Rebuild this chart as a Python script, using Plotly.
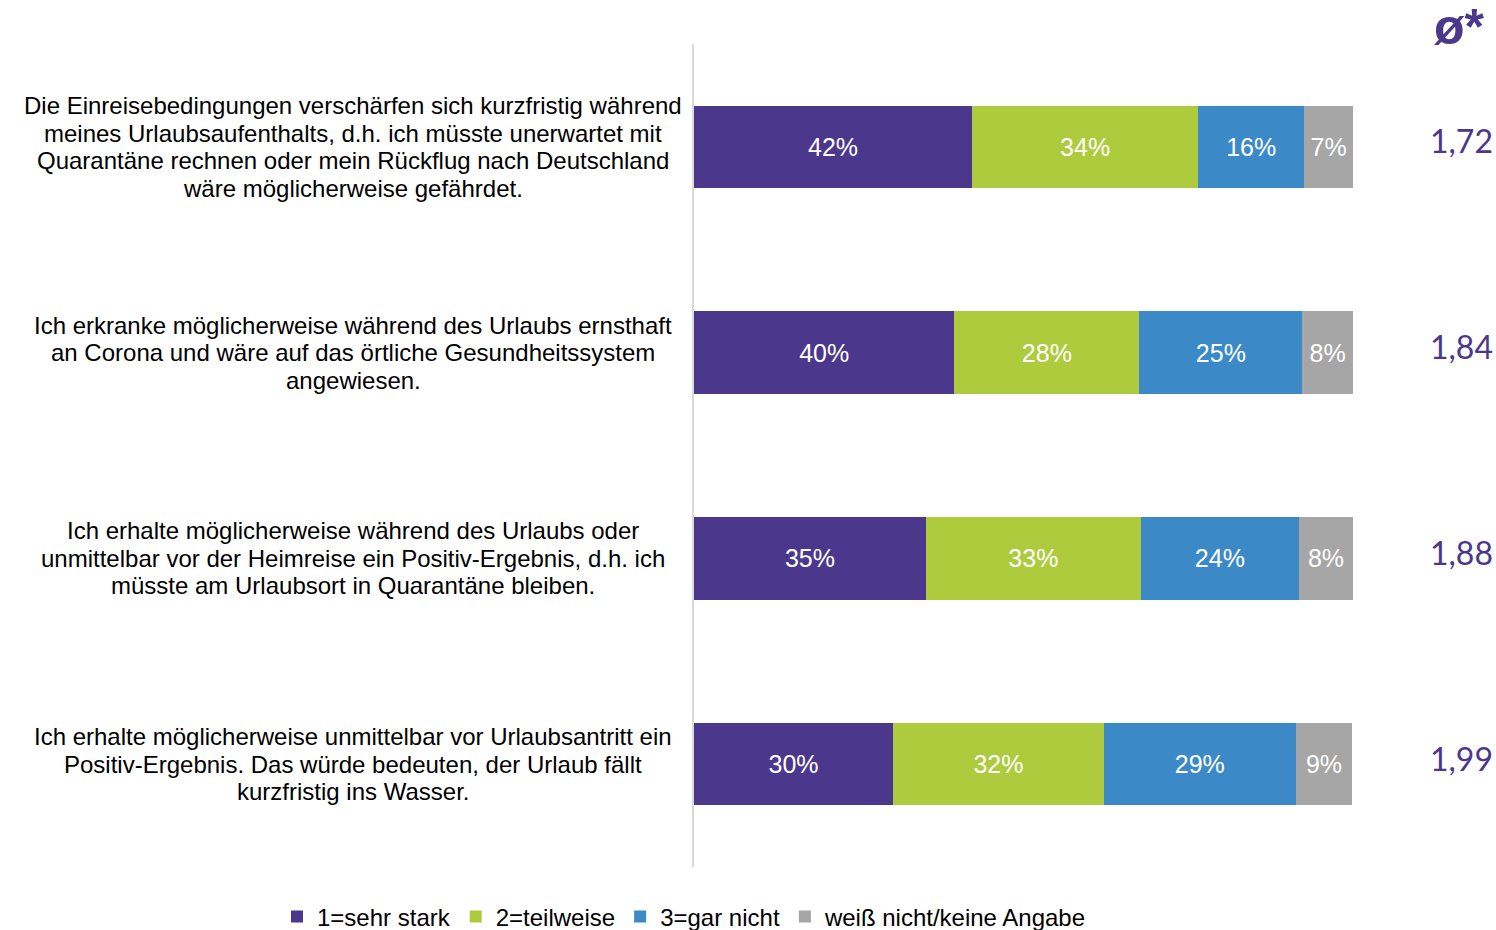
import plotly.graph_objects as go

categories = [
    "Die Einreisebedingungen verschärfen sich kurzfristig während<br>meines Urlaubsaufenthalts, d.h. ich müsste unerwartet mit<br>Quarantäne rechnen oder mein Rückflug nach Deutschland<br>wäre möglicherweise gefährdet.",
    "Ich erkranke möglicherweise während des Urlaubs ernsthaft<br>an Corona und wäre auf das örtliche Gesundheitssystem<br>angewiesen.",
    "Ich erhalte möglicherweise während des Urlaubs oder<br>unmittelbar vor der Heimreise ein Positiv-Ergebnis, d.h. ich<br>müsste am Urlaubsort in Quarantäne bleiben.",
    "Ich erhalte möglicherweise unmittelbar vor Urlaubsantritt ein<br>Positiv-Ergebnis. Das würde bedeuten, der Urlaub fällt<br>kurzfristig ins Wasser.",
]
series_names = ["1=sehr stark", "2=teilweise", "3=gar nicht", "weiß nicht/keine Angabe"]
sehr_stark = [42.2, 39.5, 35.2, 30.2]
teilweise = [34.3, 28.1, 32.6, 32.0]
gar_nicht = [16.1, 24.7, 24.0, 29.1]
weiss_nicht = [7.4, 7.7, 8.2, 8.6]
labels_sehr_stark = ["42%", "40%", "35%", "30%"]
labels_teilweise = ["34%", "28%", "33%", "32%"]
labels_gar_nicht = ["16%", "25%", "24%", "29%"]
labels_weiss_nicht = ["7%", "8%", "8%", "9%"]
averages = ["1,72", "1,84", "1,88", "1,99"]

colors = ["#4B388C", "#ADCB3D", "#3C89C8", "#A6A6A6"]
ids = ["c1", "c2", "c3", "c4"]

fig = go.Figure()
for name, vals, labs, col in zip(
    series_names,
    [sehr_stark, teilweise, gar_nicht, weiss_nicht],
    [labels_sehr_stark, labels_teilweise, labels_gar_nicht, labels_weiss_nicht],
    colors,
):
    fig.add_trace(go.Bar(
        y=ids, x=vals, name=name, orientation="h",
        marker=dict(color=col, line=dict(width=0)),
        text=labs, textposition="inside", insidetextanchor="middle",
        textfont=dict(color="white", size=25, family="Liberation Sans Narrow, Arial Narrow, Liberation Sans, Arial"),
        textangle=0, cliponaxis=False, hoverinfo="skip",
    ))

totals = [a + b + c + d for a, b, c, d in zip(sehr_stark, teilweise, gar_nicht, weiss_nicht)]
xmax = max(totals)

PLOT_L, PLOT_W = 694, 659
PLOT_T, PLOT_B = 44, 63
PLOT_H = 930 - PLOT_T - PLOT_B
LINE_H = 27.5

annotations = []
for cid, cat, avg in zip(ids, categories, averages):
    lines = cat.split("<br>")
    n = len(lines)
    for i, ln in enumerate(lines):
        annotations.append(dict(
            x=(353 - PLOT_L) / PLOT_W, xref="paper", y=cid, yref="y",
            yshift=((n - 1) / 2 - i) * LINE_H,
            text=ln, showarrow=False, xanchor="center", yanchor="middle", align="center",
            font=dict(size=24, color="#000000", family="Liberation Sans, Arial"),
        ))
    annotations.append(dict(
        x=(1461 - PLOT_L) / PLOT_W, xref="paper", y=cid, yref="y", yshift=6,
        text=avg, showarrow=False, xanchor="center", yanchor="middle",
        font=dict(size=32, color="#4B388C", family="Lato, Open Sans, sans-serif"),
    ))
annotations.append(dict(
    x=(1459 - PLOT_L) / PLOT_W, xref="paper", y=(930 - 27 - PLOT_B) / PLOT_H, yref="paper", yanchor="middle",
    text="<b>ø*</b>", showarrow=False, xanchor="center",
    font=dict(size=50, color="#4B388C", family="Liberation Sans, Arial"),
))

fig.update_layout(
    barmode="stack",
    bargap=0.6,
    width=1496, height=930,
    margin=dict(l=PLOT_L, r=1496 - PLOT_L - PLOT_W, t=PLOT_T, b=PLOT_B, autoexpand=False),
    paper_bgcolor="white", plot_bgcolor="white",
    showlegend=True,
    legend=dict(
        orientation="h", xref="paper", yref="paper",
        x=(277 - PLOT_L) / PLOT_W, xanchor="left",
        y=-(917 - (930 - PLOT_B)) / PLOT_H, yanchor="middle",
        font=dict(size=24, color="#000000", family="Liberation Sans, Arial"),
        itemwidth=30, traceorder="normal", itemclick=False, tracegroupgap=0,
    ),
    xaxis=dict(range=[0, xmax], visible=False, fixedrange=True),
    yaxis=dict(
        categoryorder="array", categoryarray=ids[::-1],
        showticklabels=False, showgrid=False, zeroline=False,
        showline=True, linecolor="#D9D9D9", linewidth=2, ticks="",
    ),
    annotations=annotations,
    uniformtext=dict(mode=False),
)

fig.write_html("out.html", config={"displayModeBar": False},
               post_script="document.body.style.margin='0';")
